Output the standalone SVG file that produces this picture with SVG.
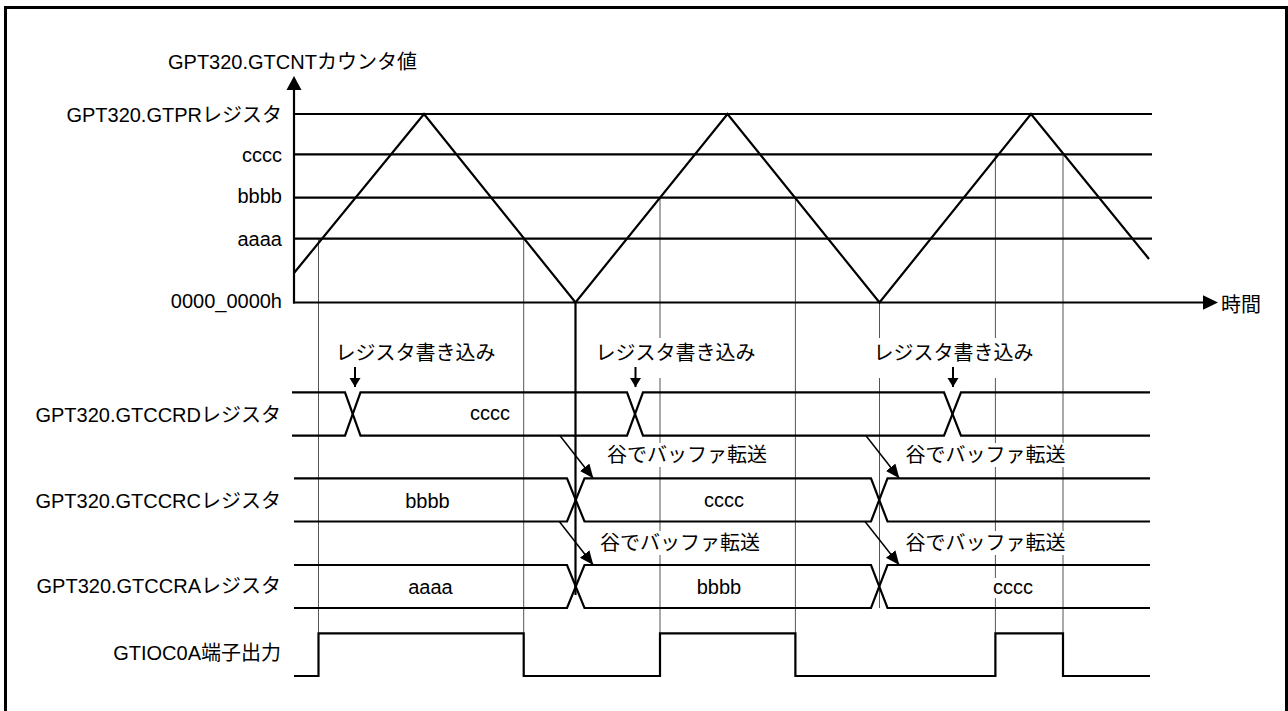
<svg xmlns="http://www.w3.org/2000/svg" width="1288" height="711" viewBox="0 0 1288 711">
<style>
text{font-family:"Liberation Sans","Noto Sans CJK JP",sans-serif;font-size:20px;fill:#000}
.e{text-anchor:end}
.m{text-anchor:middle}
.lv{stroke:#000;stroke-width:2.2;fill:none}
.wv{stroke:#000;stroke-width:2.2;fill:none;stroke-linejoin:miter}
.gd{stroke:#555;stroke-width:1;fill:none}
.bus{stroke:#000;stroke-width:2.2;fill:none;stroke-linejoin:miter}
.bg{fill:#fff;stroke:none}
.da{stroke:#000;stroke-width:1.5;fill:none;marker-end:url(#ah)}
.dn{stroke:#000;stroke-width:2;fill:none;marker-end:url(#ahs)}
</style>
<defs>
<marker id="ah" markerUnits="userSpaceOnUse" markerWidth="15" markerHeight="13" refX="14" refY="6" orient="auto"><path d="M0,0 L14,6 L0,12 z" fill="#000"/></marker>
<marker id="ahs" markerUnits="userSpaceOnUse" markerWidth="11" markerHeight="12" refX="9" refY="5.5" orient="auto"><path d="M0,0 L9,5.5 L0,11 z" fill="#000"/></marker>
</defs>
<rect x="0" y="0" width="1288" height="711" fill="#fff"/>
<rect id="frame" x="5.5" y="7.5" width="1281" height="720" fill="none" stroke="#000" stroke-width="3"/>

<g id="guides">
<line class="gd" x1="318.5" y1="238.7" x2="318.5" y2="676"/>
<line class="gd" x1="523.7" y1="238.7" x2="523.7" y2="676"/>
<line class="gd" x1="660" y1="197.7" x2="660" y2="676"/>
<line class="gd" x1="795.4" y1="197.7" x2="795.4" y2="676"/>
<line class="gd" x1="995.4" y1="154.3" x2="995.4" y2="676"/>
<line class="gd" x1="1063" y1="154.3" x2="1063" y2="676"/>
<line class="gd" x1="879.5" y1="302.5" x2="879.5" y2="608"/>
</g>

<g id="axes">
<line class="lv" x1="294" y1="303.5" x2="294" y2="88"/>
<polygon points="294,76 286.5,90 301.5,90" fill="#000"/>
<line class="lv" x1="293" y1="302.5" x2="1205" y2="302.5"/>
<polygon points="1218,302.5 1203,295.3 1203,309.7" fill="#000"/>
<text x="168" y="69">GPT320.GTCNTカウンタ値</text>
<text x="1221" y="312">時間</text>
</g>

<g id="levels">
<line class="lv" x1="294" y1="114" x2="1152" y2="114"/>
<line class="lv" x1="294" y1="154.3" x2="1152" y2="154.3"/>
<line class="lv" x1="294" y1="197.7" x2="1152" y2="197.7"/>
<line class="lv" x1="294" y1="238.7" x2="1152" y2="238.7"/>
<text class="e" x="282" y="121.5">GPT320.GTPRレジスタ</text>
<text class="e" x="282" y="161.5">cccc</text>
<text class="e" x="282" y="203">bbbb</text>
<text class="e" x="282" y="245.5">aaaa</text>
<text class="e" x="282" y="308">0000_0000h</text>
</g>

<g id="waveform">
<polyline class="wv" points="294,273 424,114 575.5,302.5 727.5,114 879.5,302.5 1031,114 1149,259"/>
<line x1="575.5" y1="302.5" x2="575.5" y2="595" stroke="#000" stroke-width="2.2"/>
</g>

<g id="gtccrd">
<polyline class="bus" points="292,392.3 345,392.3 360.5,435.7 627,435.7 643,392.3 944,392.3 961,435.7 1150,435.7"/>
<polyline class="bus" points="292,435.7 345,435.7 360.5,392.3 627,392.3 643,435.7 944,435.7 961,392.3 1150,392.3"/>
<text class="e" x="281" y="421.5">GPT320.GTCCRDレジスタ</text>
<text class="m" x="490" y="420">cccc</text>
</g>

<g id="gtccrc">
<polyline class="bus" points="294,478.3 567,478.3 584.5,521.5 871,521.5 887.5,478.3 1150,478.3"/>
<polyline class="bus" points="294,521.5 567,521.5 584.5,478.3 871,478.3 887.5,521.5 1150,521.5"/>
<text class="e" x="281" y="508">GPT320.GTCCRCレジスタ</text>
<text class="m" x="427.5" y="507.5">bbbb</text>
<text class="m" x="724" y="507">cccc</text>
</g>

<g id="gtccra">
<polyline class="bus" points="294,565 567,565 584.5,608 871,608 887.5,565 1150,565"/>
<polyline class="bus" points="294,608 567,608 584.5,565 871,565 887.5,608 1150,608"/>
<text class="e" x="281" y="592.7">GPT320.GTCCRAレジスタ</text>
<text class="m" x="430.5" y="594">aaaa</text>
<text class="m" x="719" y="594">bbbb</text>
<rect class="bg" x="990" y="578" width="46" height="20"/>
<text class="m" x="1013" y="594">cccc</text>
</g>

<g id="gtioc0a">
<polyline class="bus" points="294,676 318.5,676 318.5,633.3 523.7,633.3 523.7,676 660,676 660,633.3 795.4,633.3 795.4,676 995.4,676 995.4,633.3 1063,633.3 1063,676 1150,676"/>
<text class="e" x="281" y="660">GTIOC0A端子出力</text>
</g>

<g id="labels">
<rect class="bg" x="333" y="338" width="166" height="40"/>
<text x="335.5" y="360">レジスタ書き込み</text>
<rect class="bg" x="593" y="338" width="166" height="40"/>
<text x="595.5" y="360">レジスタ書き込み</text>
<rect class="bg" x="871" y="338" width="166" height="40"/>
<text x="873.5" y="360">レジスタ書き込み</text>
<rect class="bg" x="605" y="443" width="166" height="24"/>
<text x="607" y="462">谷でバッファ転送</text>
<rect class="bg" x="903" y="443" width="166" height="24"/>
<text x="905.5" y="462">谷でバッファ転送</text>
<rect class="bg" x="598" y="531" width="166" height="24"/>
<text x="600" y="550">谷でバッファ転送</text>
<rect class="bg" x="903" y="531" width="166" height="24"/>
<text x="905.5" y="550">谷でバッファ転送</text>
</g>

<g id="connectors">
<line class="dn" x1="355" y1="367" x2="355" y2="387"/>
<line class="dn" x1="635.5" y1="367" x2="635.5" y2="387"/>
<line class="dn" x1="953" y1="367" x2="953" y2="387"/>
<line class="da" x1="560" y1="435.7" x2="593.3" y2="478.3"/>
<line class="da" x1="559.3" y1="521.5" x2="593.3" y2="565"/>
<line class="da" x1="866" y1="435.7" x2="899.3" y2="478.3"/>
<line class="da" x1="865" y1="521.5" x2="899.3" y2="565"/>
</g>
</svg>
